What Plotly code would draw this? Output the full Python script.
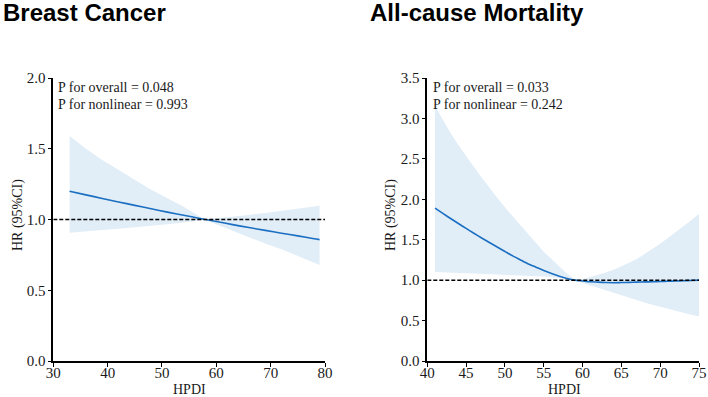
import plotly.graph_objects as go

# ---- Data: Breast Cancer ----
bc_x = [33, 36, 39, 42, 45, 48, 51, 54, 57, 58, 60, 63, 66, 69, 72, 75, 78, 79]
bc_hr = [1.200, 1.174, 1.149, 1.124, 1.100, 1.076, 1.052, 1.030, 1.007, 1.000,
         0.986, 0.964, 0.943, 0.923, 0.903, 0.884, 0.864, 0.858]
bc_upper = [1.59, 1.50, 1.42, 1.35, 1.28, 1.21, 1.15, 1.09, 1.02, 1.003,
            1.008, 1.018, 1.032, 1.046, 1.060, 1.075, 1.092, 1.098]
bc_lower = [0.907, 0.915, 0.925, 0.935, 0.945, 0.955, 0.967, 0.978, 0.995, 0.997,
            0.967, 0.920, 0.875, 0.830, 0.790, 0.745, 0.695, 0.678]

# ---- Data: All-cause Mortality ----
am_x = [41, 42, 43, 44, 45, 46, 47, 48, 49, 50, 51, 52, 53, 54, 55, 56, 57, 58,
        59, 60, 61, 62, 63, 64, 65, 66, 67, 68, 69, 70, 71, 72, 73, 74, 75]
am_hr = [1.89, 1.825, 1.762, 1.70, 1.64, 1.58, 1.522, 1.465, 1.41, 1.355, 1.30, 1.25,
         1.20, 1.16, 1.12, 1.082, 1.048, 1.02, 1.00, 0.99, 0.98, 0.975, 0.97, 0.968,
         0.97, 0.972, 0.975, 0.978, 0.98, 0.983, 0.986, 0.99, 0.993, 0.996, 1.00]
am_upper = [3.15, 2.98, 2.82, 2.67, 2.53, 2.40, 2.27, 2.14, 2.02, 1.90, 1.79, 1.67,
            1.56, 1.45, 1.35, 1.26, 1.17, 1.08, 1.01, 1.01, 1.04, 1.065, 1.095, 1.13,
            1.17, 1.215, 1.26, 1.32, 1.385, 1.45, 1.52, 1.59, 1.66, 1.74, 1.82]
am_lower = [1.10, 1.095, 1.09, 1.088, 1.085, 1.082, 1.08, 1.075, 1.07, 1.068, 1.065,
            1.06, 1.055, 1.05, 1.045, 1.04, 1.03, 1.015, 0.995, 0.97, 0.94, 0.91,
            0.88, 0.85, 0.82, 0.787, 0.755, 0.725, 0.695, 0.67, 0.645, 0.62, 0.595,
            0.572, 0.55]

ref_hr = 1.0
bc_xrange = [30, 80]
am_xrange = [40, 75]
bc_yrange = [0, 2.0]
am_yrange = [0, 3.5]

titles = ["Breast Cancer", "All-cause Mortality"]
p_texts = [["P for overall = 0.048", "P for nonlinear = 0.993"],
           ["P for overall = 0.033", "P for nonlinear = 0.242"]]
x_title = "HPDI"
y_title = "HR (95%CI)"

LINE = "#1b6fc2"
BAND = "#e1edf7"
SERIF = "Liberation Serif, Times New Roman, serif"
SANS = "Liberation Sans, Arial, sans-serif"
TXT = "#1a1a1a"
W, H = 708, 397

fig = go.Figure()

def add_panel(x, hr, up, lo, xr, xa, ya):
    fig.add_trace(go.Scatter(x=x + x[::-1], y=up + lo[::-1], fill="toself",
                             fillcolor=BAND, line=dict(width=0), mode="lines",
                             xaxis=xa, yaxis=ya, hoverinfo="skip", showlegend=False))
    fig.add_trace(go.Scatter(x=x, y=hr, mode="lines",
                             line=dict(color=LINE, width=1.6, shape="spline", smoothing=0.6),
                             xaxis=xa, yaxis=ya, showlegend=False))
    fig.add_trace(go.Scatter(x=xr, y=[ref_hr, ref_hr], mode="lines",
                             line=dict(color="black", width=1.5, dash="4px,2px"),
                             xaxis=xa, yaxis=ya, showlegend=False))

add_panel(bc_x, bc_hr, bc_upper, bc_lower, bc_xrange, "x", "y")
add_panel(am_x, am_hr, am_upper, am_lower, am_xrange, "x2", "y2")

ydom = [1 - 361 / H, 1 - 78 / H]
axis_common = dict(showline=True, linecolor="black", linewidth=1.5, ticks="outside",
                   ticklen=4, tickwidth=1.3, tickcolor="black", showgrid=False,
                   zeroline=False, automargin=False,
                   tickfont=dict(family=SERIF, size=15, color=TXT))

fig.update_layout(
    width=W, height=H, margin=dict(l=0, r=0, t=0, b=0, autoexpand=False),
    paper_bgcolor="white", plot_bgcolor="white",
    xaxis=dict(domain=[53.3 / W, 325 / W], range=bc_xrange, dtick=10, anchor="y",
               ticklabelstandoff=-7, **axis_common),
    yaxis=dict(domain=ydom, range=bc_yrange, dtick=0.5, tickformat=".1f", anchor="x",
               ticklabelstandoff=-1, **axis_common),
    xaxis2=dict(domain=[427.3 / W, 699 / W], range=am_xrange, dtick=5, anchor="y2",
                ticklabelstandoff=-7, **axis_common),
    yaxis2=dict(domain=ydom, range=am_yrange, dtick=0.5, tickformat=".1f", anchor="x2",
                ticklabelstandoff=-1, **axis_common),
)

title_x = [1 / W, 368 / W]
text_x = [56 / W, 431 / W]
xt_x = [189 / W, 564 / W]
yt_x = [18 / W, 391 / W]
for i in range(2):
    fig.add_annotation(text="<b>%s</b>" % titles[i], xref="paper", yref="paper",
                       x=title_x[i], y=1 + 3 / H, xanchor="left", yanchor="top",
                       showarrow=False, font=dict(family=SANS, size=24, color="black"))
    for j, t in enumerate(p_texts[i]):
        fig.add_annotation(text=t, xref="paper", yref="paper",
                           x=text_x[i], y=1 - (87.5 + j * 16.7) / H,
                           xanchor="left", yanchor="middle", showarrow=False,
                           font=dict(family=SERIF, size=14, color=TXT))
    fig.add_annotation(text=x_title, xref="paper", yref="paper",
                       x=xt_x[i], y=1 - 389 / H, xanchor="center", yanchor="middle",
                       showarrow=False, font=dict(family=SERIF, size=14, color=TXT))
    fig.add_annotation(text=y_title, xref="paper", yref="paper", textangle=-90,
                       x=yt_x[i], y=1 - 215 / H, xanchor="center", yanchor="middle",
                       showarrow=False, font=dict(family=SERIF, size=14, color=TXT))

fig.write_html("out.html")
